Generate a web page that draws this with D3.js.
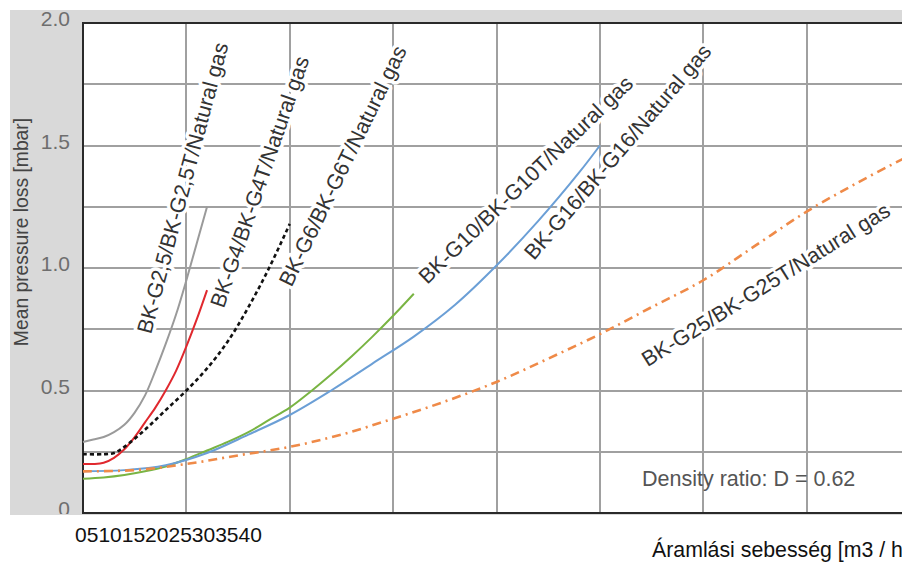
<!DOCTYPE html>
<html><head><meta charset="utf-8">
<script src="https://cdn.jsdelivr.net/npm/d3@7"></script>
<style>body{margin:0;background:#fff;overflow:hidden;} svg{display:block;}</style>
</head><body>
<svg id="chart" width="902" height="572"></svg>
<script>
// ---------- data ----------
const xTickValues = [0, 5, 10, 15, 20, 25, 30, 35, 40];
const xTickLabels = ["0", "5", "10", "15", "20", "25", "30", "35", "40"];
const yTickValues = [0, 0.5, 1.0, 1.5, 2.0];
const yTickLabels = ["0", "0.5", "1.0", "1.5", "2.0"];
const yGridValues = [0, 0.25, 0.5, 0.75, 1.0, 1.25, 1.5, 1.75, 2.0];

const seriesNames = ["BK-G2,5/BK-G2,5T/Natural gas", "BK-G4/BK-G4T/Natural gas", "BK-G6/BK-G6T/Natural gas",
                     "BK-G10/BK-G10T/Natural gas", "BK-G16/BK-G16/Natural gas", "BK-G25/BK-G25T/Natural gas"];

const xG25s = [0, 0.5, 1, 1.5, 2, 2.5, 3, 3.5, 4, 4.5, 5, 5.5, 6];
const yG25s = [0.29, 0.30, 0.31, 0.33, 0.36, 0.41, 0.48, 0.58, 0.69, 0.81, 0.95, 1.10, 1.25];

const xG4 = [0, 0.5, 1, 1.5, 2, 2.5, 3, 3.5, 4, 4.5, 5, 5.5, 6];
const yG4 = [0.20, 0.20, 0.205, 0.225, 0.26, 0.31, 0.37, 0.43, 0.50, 0.58, 0.68, 0.79, 0.91];

const xG6 = [0, 1, 1.5, 2, 3, 4, 5, 6, 7, 8, 9, 10];
const yG6 = [0.24, 0.24, 0.245, 0.27, 0.34, 0.42, 0.50, 0.59, 0.70, 0.84, 1.00, 1.18];

const xG10 = [0, 1, 2, 3, 4, 5, 6, 7, 8, 9, 10, 11, 12, 13, 14, 15, 16];
const yG10 = [0.14, 0.145, 0.155, 0.17, 0.19, 0.22, 0.255, 0.29, 0.33, 0.38, 0.43, 0.495, 0.565, 0.64, 0.72, 0.805, 0.895];

const xG16 = [0, 2, 4, 6, 8, 10, 12, 14, 16, 18, 20, 22, 24, 25];
const yG16 = [0.17, 0.175, 0.195, 0.245, 0.32, 0.40, 0.50, 0.61, 0.72, 0.85, 1.01, 1.19, 1.39, 1.50];

const xG25 = [0, 2.5, 5, 7.5, 10, 12.5, 15, 17.5, 20, 22.5, 25, 27.5, 30, 32.5, 35, 37.5, 40];
const yG25 = [0.17, 0.175, 0.20, 0.235, 0.27, 0.32, 0.385, 0.455, 0.535, 0.63, 0.73, 0.84, 0.95, 1.09, 1.23, 1.35, 1.46];

const densityNote = "Density ratio: D = 0.62";
const xTitle = "Áramlási sebesség [m3 / h]";
const yTitle = "Mean pressure loss [mbar]";

// ---------- layout / style ----------
const seriesX = [xG25s, xG4, xG6, xG10, xG16, xG25];
const seriesY = [yG25s, yG4, yG6, yG10, yG16, yG25];
const seriesColor = ["#9a9a9a", "#e0282e", "#111111", "#79b443", "#6b9fd6", "#ef8a48"];
const seriesDash = [null, null, "4,3", null, null, "9,5,2,5"];
const seriesWidth = [2, 2, 2.6, 2, 2, 2.6];
// label centre (in px) and rotation
const labelPos = [[183, 188, -75], [260, 182, -71], [343, 166, -64], [526, 180, -44], [618, 152, -49.5], [766, 285, -32]];

const svg = d3.select("#chart");
const L = 83, T = 23, R = 910, B = 513;
const x = d3.scaleLinear().domain([0, 40]).range([L, R]);
const y = d3.scaleLinear().domain([0, 2]).range([B, T]);
const FONT = "'Liberation Sans', Arial, Helvetica, sans-serif";

// gray frame background
svg.append("rect").attr("x", 10).attr("y", 10).attr("width", 902).attr("height", 505).attr("fill", "#d9d9d9");
svg.append("rect").attr("x", L).attr("y", T).attr("width", R - L).attr("height", B - T).attr("fill", "#fff");

// grid
const grid = svg.append("g").attr("stroke", "#a0a0a0").attr("stroke-width", 2).attr("shape-rendering", "crispEdges");
grid.selectAll("line.h").data(yGridValues).join("line")
  .attr("x1", L).attr("x2", R).attr("y1", d => Math.round(y(d))).attr("y2", d => Math.round(y(d)));
grid.selectAll("line.v").data(xTickValues).join("line")
  .attr("y1", T).attr("y2", B).attr("x1", d => Math.round(x(d))).attr("x2", d => Math.round(x(d)));

// frame lines
svg.append("path").attr("d", `M${R},${T}H${L}V${B}H${R}`).attr("fill", "none").attr("stroke", "#2a2a2a").attr("stroke-width", 2);

// curve labels (with white halo)
svg.append("g").selectAll("text").data(seriesNames).join("text")
  .attr("transform", (d, i) => `translate(${labelPos[i][0]},${labelPos[i][1]}) rotate(${labelPos[i][2]})`)
  .attr("text-anchor", "middle").attr("dominant-baseline", "central")
  .attr("font-family", FONT).attr("font-size", 21.5).attr("fill", "#333")
  .attr("stroke", "#fff").attr("stroke-width", 7).attr("paint-order", "stroke").attr("stroke-linejoin", "round")
  .text(d => d);

// curves
const line = d3.line().x(d => x(d[0])).y(d => y(d[1])).curve(d3.curveCatmullRom.alpha(0.5));
svg.append("g").selectAll("path").data(seriesNames).join("path")
  .attr("d", (d, i) => line(seriesX[i].map((v, j) => [v, seriesY[i][j]])))
  .attr("fill", "none")
  .attr("stroke", (d, i) => seriesColor[i])
  .attr("stroke-width", (d, i) => seriesWidth[i])
  .attr("stroke-dasharray", (d, i) => seriesDash[i]);

// density note
svg.append("text").attr("x", 642).attr("y", 486).attr("font-family", FONT).attr("font-size", 21.5)
  .attr("fill", "#555").text(densityNote);

// y tick labels (clipped to gray frame)
svg.append("clipPath").attr("id", "ylab").append("rect").attr("x", 0).attr("y", 0).attr("width", L).attr("height", 514);
svg.append("g").attr("clip-path", "url(#ylab)").selectAll("text").data(yTickValues).join("text")
  .attr("x", 70).attr("y", d => y(d) - 4).attr("dy", "0.35em").attr("text-anchor", "end")
  .attr("font-family", FONT).attr("font-size", 21).attr("fill", "#6e6e6e")
  .text((d, i) => yTickLabels[i]);

// y title
svg.append("text").attr("transform", "translate(28,232) rotate(-90)").attr("text-anchor", "middle")
  .attr("font-family", FONT).attr("font-size", 19.3).attr("fill", "#444").text(yTitle);

// x tick labels (crammed together as in the original)
const xt = svg.append("text").attr("x", 75).attr("y", 542).attr("font-family", FONT).attr("font-size", 21).attr("fill", "#111");
xt.selectAll("tspan").data(xTickLabels).join("tspan").text(d => d);

// x title (runs off the right edge, as in the original)
svg.append("text").attr("x", 652).attr("y", 557).attr("font-family", FONT).attr("font-size", 21.3)
  .attr("fill", "#111").text(xTitle);
</script>
</body></html>
